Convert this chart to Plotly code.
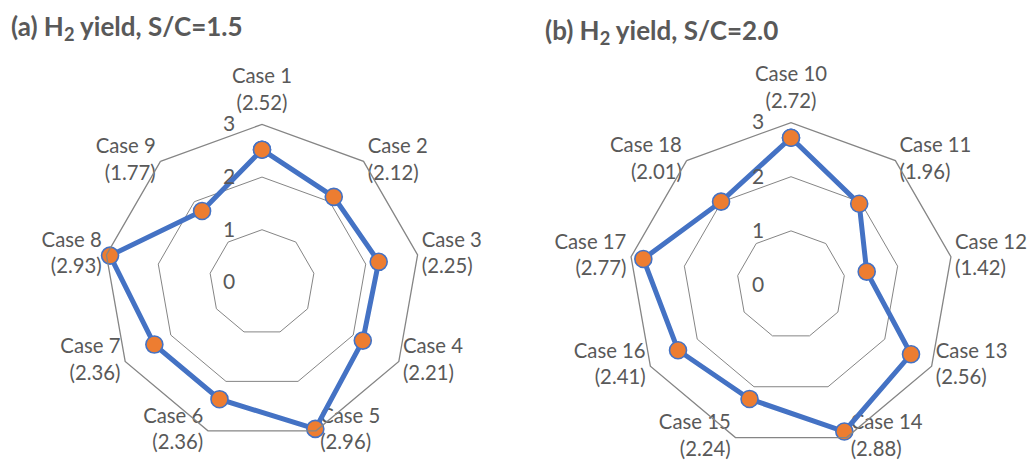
import plotly.graph_objects as go

# ---- data ----
cases_a = ["Case 1", "Case 2", "Case 3", "Case 4", "Case 5", "Case 6", "Case 7", "Case 8", "Case 9"]
yield_a = [2.52, 2.12, 2.25, 2.21, 2.96, 2.36, 2.36, 2.93, 1.77]
cases_b = ["Case 10", "Case 11", "Case 12", "Case 13", "Case 14", "Case 15", "Case 16", "Case 17", "Case 18"]
yield_b = [2.72, 1.96, 1.42, 2.56, 2.88, 2.24, 2.41, 2.77, 2.01]
title_a = "<b>(a) H<sub>2</sub> yield, S/C=1.5</b>"
title_b = "<b>(b) H<sub>2</sub> yield, S/C=2.0</b>"
R_MAX = 3

FONT = "Lato"
TXT = "#595959"
GRID = "#858585"
BLUE = "#4472C4"
ORANGE = "#ED7D31"

# page body has an 8px margin; layout positions below are given in screen pixels
OFF = 8
W, H = 1035 - OFF, 468 - 2 * OFF  # keep page height within the window (no scrollbar)

fig = go.Figure()


def label_style(n):
    pos, size = [], []
    for k in range(n):
        ang = k * 360 / n
        if ang == 0:
            pos.append("top center"); size.append(14)
        elif ang < 180:
            pos.append("middle right"); size.append(5)
        else:
            pos.append("middle left"); size.append(6)
    return pos, size


def add_radar(cases, vals, polar):
    pos, size = label_style(len(cases))
    fig.add_trace(go.Scatterpolar(
        r=[R_MAX] * len(cases), theta=cases, mode="markers+text",
        text=[f"{c}<br>({v:.2f})" for c, v in zip(cases, vals)],
        textposition=pos,
        marker=dict(size=size, color="rgba(0,0,0,0)", line=dict(width=0)),
        textfont=dict(family=FONT, size=20.3, color=TXT),
        subplot=polar, showlegend=False, hoverinfo="skip", cliponaxis=False))
    fig.add_trace(go.Scatterpolar(
        r=vals + vals[:1], theta=cases + cases[:1], mode="lines+markers",
        line=dict(color=BLUE, width=5),
        marker=dict(size=17, color=ORANGE, line=dict(color=BLUE, width=1.6)),
        subplot=polar, showlegend=False, hoverinfo="skip", cliponaxis=False))


add_radar(cases_a, yield_a, "polar")
add_radar(cases_b, yield_b, "polar2")

polar_common = dict(
    gridshape="linear",
    bgcolor="white",
    angularaxis=dict(type="category", rotation=90, direction="clockwise",
                     showgrid=False, showticklabels=False, ticks="",
                     showline=True, linecolor=GRID, linewidth=1.3),
    radialaxis=dict(range=[0, R_MAX], tick0=0, dtick=1, angle=90, tickangle=90,
                    side="counterclockwise", showline=False,
                    gridcolor=GRID, gridwidth=1.3,
                    ticks="outside", ticklen=19, tickcolor="rgba(0,0,0,0)",
                    tickfont=dict(family=FONT, size=21, color=TXT)),
)


def dom(x0, x1, y0, y1):
    return dict(x=[(x0 - OFF) / W, (x1 - OFF) / W],
                y=[1 - (y1 - OFF) / H, 1 - (y0 - OFF) / H])


fig.update_layout(
    width=W, height=H,
    margin=dict(l=0, r=0, t=0, b=0),
    paper_bgcolor="white", plot_bgcolor="white",
    font=dict(family=FONT, color=TXT),
    polar=dict(domain=dom(104, 420, 124.4, 440.4), **polar_common),
    polar2=dict(domain=dom(628.6, 953.4, 122.6, 447.4), **polar_common),
    annotations=[
        dict(text=title_a, x=(9 - OFF) / W, y=1 - (27 - OFF) / H, xref="paper", yref="paper",
             xanchor="left", yanchor="middle", showarrow=False,
             font=dict(family=FONT, size=26, color=TXT)),
        dict(text=title_b, x=(543 - OFF) / W, y=1 - (31 - OFF) / H, xref="paper", yref="paper",
             xanchor="left", yanchor="middle", showarrow=False,
             font=dict(family=FONT, size=26, color=TXT)),
    ],
)

fig.write_html("out.html")
